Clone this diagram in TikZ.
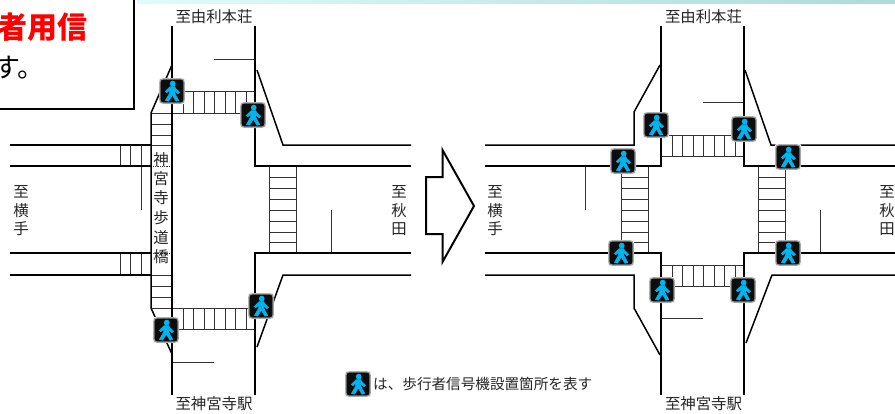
\documentclass[tikz,border=0pt]{standalone}
\usepackage{fontspec}
\setmainfont{Noto Sans CJK JP}
\newfontfamily\cjk{Noto Sans CJK JP}
\usetikzlibrary{positioning}
\definecolor{walk}{HTML}{00B4F0}
\definecolor{redtxt}{HTML}{FF0000}
\definecolor{stripe}{HTML}{333333}
\definecolor{stripb}{HTML}{E0FBFB}
\definecolor{stripc}{HTML}{AEDADA}
\tikzset{
  road/.style={line width=1.5pt,black,line cap=butt,line join=miter},
  zebra/.style={line width=0.9pt,stripe},
  stopline/.style={line width=0.9pt,stripe},
  lbl/.style={font=\cjk\fontsize{15.4}{16}\selectfont,inner sep=0pt,text=black!85},
  signal/.pic={
    \fill[white!88!gray,rounded corners=1pt] (-13,-13) rectangle (13,13);
    \draw[line width=1.3pt,gray!85,fill=black,rounded corners=3pt] (-12,-12) rectangle (12,12);
    \fill[black!95,rounded corners=1pt] (-10.8,-10.8) rectangle (10.8,10.8);
    \fill[walk] (0.7,-7.4) circle (2.9);
    \filldraw[walk,line width=0.5pt,line join=round] (-1.8,-4.4) -- (2.6,-4.4) -- (3.8,-2.4) -- (7.6,1.2) -- (6,2.8) -- (2.8,-0.2)
      -- (2.8,2.2) -- (6.8,9.6) -- (3.8,10.2) -- (0.4,4) -- (-3.4,10.2) -- (-6.6,9.4) -- (-2.4,2.2) -- (-2.2,-1)
      -- (-5.2,1.8) -- (-6.8,0.4) -- cycle;
  }
}
\begin{document}
\begin{tikzpicture}[x=1pt,y=-1pt]
\useasboundingbox (0,0) rectangle (895,413);
\fill[white] (0,0) rectangle (895,413);
\fill[left color=stripb,right color=stripc] (137,0) rectangle (895,3);

% ---- left junction: crossings
\draw[zebra] (172,91) rectangle (255,113);
\foreach \x in {183,193.5,204,214.5,225,235.5,246} \draw[zebra] (\x,91) -- (\x,113);
\draw[zebra] (172,308) rectangle (255,329);
\foreach \x in {183,193.5,204,214.5,225,235.5,246} \draw[zebra] (\x,308) -- (\x,329);
\draw[zebra] (269,166) rectangle (296,253);
\foreach \y in {177,188,199,210,221,232,242} \draw[zebra] (269,\y) -- (296,\y);
\draw[zebra] (120,145) rectangle (151,166);
\draw[zebra] (120,253) rectangle (151,275);
\foreach \x in {130.5,141} {\draw[zebra] (\x,145) -- (\x,166); \draw[zebra] (\x,253) -- (\x,275);}
\foreach \y in {124,135,145,275,286,297} \draw[zebra] (151,\y) -- (172,\y);
\draw[zebra] (151,113) -- (172,113);
\draw[zebra] (151,308) -- (172,308);
\draw[line width=0.8pt,densely dotted,stripe] (153,166) -- (172,166);
\draw[line width=0.8pt,densely dotted,stripe] (153,253) -- (172,253);

% ---- left junction: stop lines
\draw[stopline] (214,59) -- (255,59);
\draw[stopline] (173,362) -- (214,362);
\draw[stopline] (141,166) -- (141,210);
\draw[stopline] (331,210) -- (331,253);

% ---- left junction: roads
\draw[road] (172,26) -- (172,395);
\draw[road] (255,26) -- (255,166) -- (411,166);
\draw[road] (255,395) -- (255,253) -- (411,253);
\draw[road] (171.5,66) -- (151,113) -- (151,308) -- (171.5,353);
\draw[road] (10,145) -- (151,145);
\draw[road,line width=1.2pt] (10,166) -- (120,166);
\draw[road] (120,166) -- (151,166);
\draw[road] (10,253) -- (151,253);
\draw[road,line width=1.2pt] (10,275) -- (120,275);
\draw[road] (120,275) -- (151,275);
\draw[road] (257,70) -- (283,145) -- (411,145);
\draw[road] (257,347) -- (283,275) -- (411,275);

% ---- right junction: crossings
\draw[zebra] (661,135) rectangle (744,156);
\draw[zebra] (661,265) rectangle (744,286);
\foreach \x in {672,682.5,693,703.5,714,724.5,735} {\draw[zebra] (\x,135) -- (\x,156); \draw[zebra] (\x,265) -- (\x,286);}
\draw[zebra] (621,166) rectangle (648,253);
\draw[zebra] (758,166) rectangle (785,253);
\foreach \y in {177,188,199,210,221,232,242} {\draw[zebra] (621,\y) -- (648,\y); \draw[zebra] (758,\y) -- (785,\y);}

% ---- right junction: stop lines
\draw[stopline] (703,102) -- (744,102);
\draw[stopline] (661,318.5) -- (703,318.5);
\draw[stopline] (585.5,166) -- (585.5,210);
\draw[stopline] (820,210) -- (820,253);

% ---- right junction: roads
\draw[road] (485,145) -- (634,145) -- (634,112) -- (660,65);
\draw[road] (485,166) -- (661,166) -- (661,26);
\draw[road] (485,253) -- (661,253) -- (661,395);
\draw[road] (485,275) -- (634,275) -- (634,308) -- (660,355);
\draw[road] (744,26) -- (744,166) -- (895,166);
\draw[road] (744,395) -- (744,253) -- (895,253);
\draw[road] (745,70) -- (771,145) -- (895,145);
\draw[road] (746,343) -- (772,275) -- (895,275);

% ---- block arrow
\draw[road,line width=2pt] (426,177) -- (442.5,177) -- (442.5,150) -- (474,206) -- (442.5,262) -- (442.5,234) -- (426,234) -- cycle;

% ---- signals
\foreach \p/\q in {172/91,253/115,261/306,166/330,656/125,744/129,623/161,788/157,621/253,788/253,662/290,743/290,358/384}
  \pic at (\p,\q) {signal};

% ---- labels
\node[lbl] (t1) at (214,17) {至由利本荘};
\node[lbl] (t2) at (703.5,17) {至由利本荘};
\node[lbl] (b1) at (214,404) {至神宮寺駅};
\node[lbl] (b2) at (703.5,404) {至神宮寺駅};
\foreach \n/\x/\a/\b/\c in {w1/21/至/横/手,e1/399/至/秋/田,w2/495/至/横/手,e2/887/至/秋/田}{
  \node[lbl] (\n a) at (\x,192) {\a};
  \node[lbl] (\n b) at (\x,210.5) {\b};
  \node[lbl] (\n c) at (\x,229) {\c};
}
\foreach \y/\c [count=\i] in {160/神,179/宮,198/寺,218/歩,238/道,257/橋}
  \node[lbl] (br\i) at (161,\y) {\c};
\node[lbl,anchor=west,font=\cjk\fontsize{14.6}{15}\selectfont] (legend) at (373,384) {は、歩行者信号機設置箇所を表す};

% ---- callout (cut by the page edge)
\begin{scope}
\clip (0,0) rectangle (895,413);
\fill[white] (-20,-10) rectangle (134,109);
\draw[line width=2.4pt,black] (-20,109) -- (134,109) -- (134,-5);
\node[anchor=east,inner sep=0pt,text=redtxt,font=\cjk\bfseries\fontsize{30}{32}\selectfont] (red) at (87.5,27) {者用信};
\node[anchor=east,inner sep=0pt,text=black,font=\cjk\fontsize{27}{29}\selectfont] (blk) at (45,68) {す。};
\end{scope}
\end{tikzpicture}
\end{document}
